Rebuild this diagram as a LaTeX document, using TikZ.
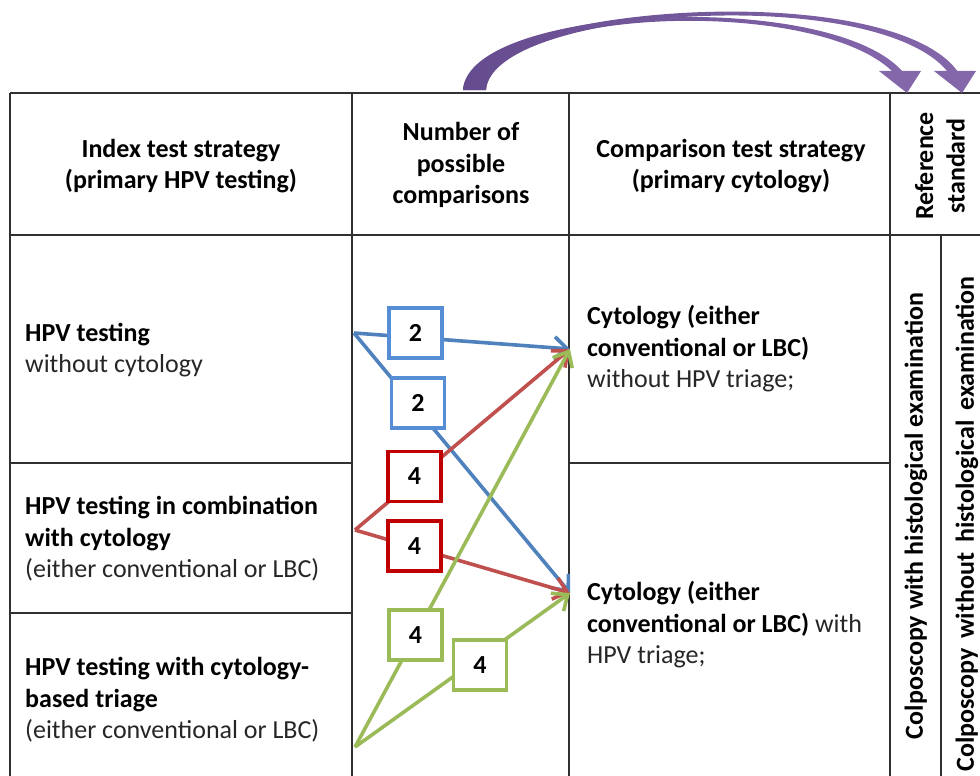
\documentclass[tikz,border=0pt]{standalone}
\usepackage{fontspec}
\setmainfont{Carlito}
\usetikzlibrary{arrows.meta}
\definecolor{gridc}{HTML}{303030}
\definecolor{txt}{HTML}{262626}
\definecolor{bline}{HTML}{4F81BD}
\definecolor{bbox}{HTML}{558ED5}
\definecolor{rline}{HTML}{C0504D}
\definecolor{rbox}{HTML}{C00000}
\definecolor{gline}{HTML}{9BBB59}
\definecolor{purpD}{HTML}{654C8F}
\definecolor{purpL}{HTML}{8466AA}
\tikzset{
  grid/.style={draw=gridc, line width=1.6pt},
  hdr/.style={font=\fontsize{26}{31.5}\selectfont\bfseries, align=center, inner sep=0pt, text=black},
  body/.style={font=\fontsize{26}{31.5}\selectfont, align=left, inner sep=0pt, anchor=west, text=txt},
  rot/.style={font=\fontsize{26}{31.5}\selectfont\bfseries, inner sep=0pt, rotate=90, text=black},
  nbox/.style={draw=#1, line width=3.8pt, fill=white, minimum width=53pt, minimum height=50pt, inner sep=0pt, font=\fontsize{26}{31.5}\selectfont\bfseries, text=black},
  conn/.style={draw=#1, line width=3.6pt, -{Straight Barb[length=13pt,width=22pt,line width=3.6pt]}},
}
\begin{document}
\begin{tikzpicture}[x=1pt,y=-1pt]
\useasboundingbox (0,0) rectangle (980,776);
% table grid
\draw[grid] (10,93) -- (980,93);
\draw[grid] (10,235) -- (980,235);
\draw[grid] (10,93) -- (10,776);
\draw[grid] (352,93) -- (352,776);
\draw[grid] (569,93) -- (569,776);
\draw[grid] (890,93) -- (890,776);
\draw[grid] (941,235) -- (941,776);
\draw[grid] (10,463) -- (352,463);
\draw[grid] (10,613) -- (352,613);
\draw[grid] (569,463) -- (890,463);
% headers
\node[hdr] (h1) at (181,166) {Index test strategy\\(primary HPV testing)};
\node[hdr] (h2) at (461,165) {Number of\\possible\\comparisons};
\node[hdr] (h3) at (731,166) {Comparison test strategy\\(primary cytology)};
\node[hdr, rotate=90] (h4) at (940,166) {Reference\\standard};
% index strategies
\node[body] (i1) at (25,350) {\textbf{\color{black}HPV testing}\\without cytology};
\node[body] (i2) at (25,539) {\textbf{\color{black}HPV testing in combination}\\\textbf{\color{black}with cytology}\\(either conventional or LBC)};
\node[body] (i3) at (25,700) {\textbf{\color{black}HPV testing with cytology-}\\\textbf{\color{black}based triage}\\(either conventional or LBC)};
% comparison strategies
\node[body] (c1) at (587,349) {\textbf{\color{black}Cytology (either}\\\textbf{\color{black}conventional or LBC)}\\without HPV triage;};
\node[body] (c2) at (587,625) {\textbf{\color{black}Cytology (either}\\\textbf{\color{black}conventional or LBC)} with\\HPV triage;};
% reference standards
\node[rot] (r1) at (916,516) {Colposcopy with histological examination};
\node[rot] (r2) at (967,524) {Colposcopy\hspace{10pt}without\hspace{10pt}histological\hspace{10pt}examination};
% connector end points
\coordinate (s1) at (354,333);
\coordinate (s2) at (355,530);
\coordinate (s3) at (355,747);
\coordinate (t1) at (570,349);
\coordinate (t2) at (570,593);
\draw[conn=bline] (s1) -- (t1);
\draw[conn=bline] (s1) -- (t2);
\draw[conn=rline] (s2) -- (t1);
\draw[conn=rline] (s2) -- (t2);
\draw[conn=gline] (s3) -- (t1);
\draw[conn=gline] (s3) -- (t2);
% count boxes
\node[nbox=bbox] (b1) at (415.5,333) {2};
\node[nbox=bbox] (b2) at (418,403) {2};
\node[nbox=rbox] (b3) at (414.5,476.5) {4};
\node[nbox=rbox] (b4) at (414.5,546) {4};
\node[nbox=gline] (b5) at (415.5,635) {4};
\node[nbox=gline] (b6) at (480,665) {4};
% purple curved arrows
\shade[left color=purpD, right color=purpL]
  (463,90) .. controls (468,5) and (890,-25) .. (958,72) -- (948,72)
  .. controls (875,-18) and (492,8) .. (486,90) -- cycle;
\shade[left color=purpD, right color=purpL]
  (463,90) .. controls (468,5) and (830,-12) .. (903,72) -- (893,72)
  .. controls (815,-5) and (492,8) .. (486,90) -- cycle;
\fill[purpL] (879,71) -- (921,71) -- (907,93) -- cycle;
\fill[purpL] (934,71) -- (976,71) -- (962,93) -- cycle;
\end{tikzpicture}
\end{document}
